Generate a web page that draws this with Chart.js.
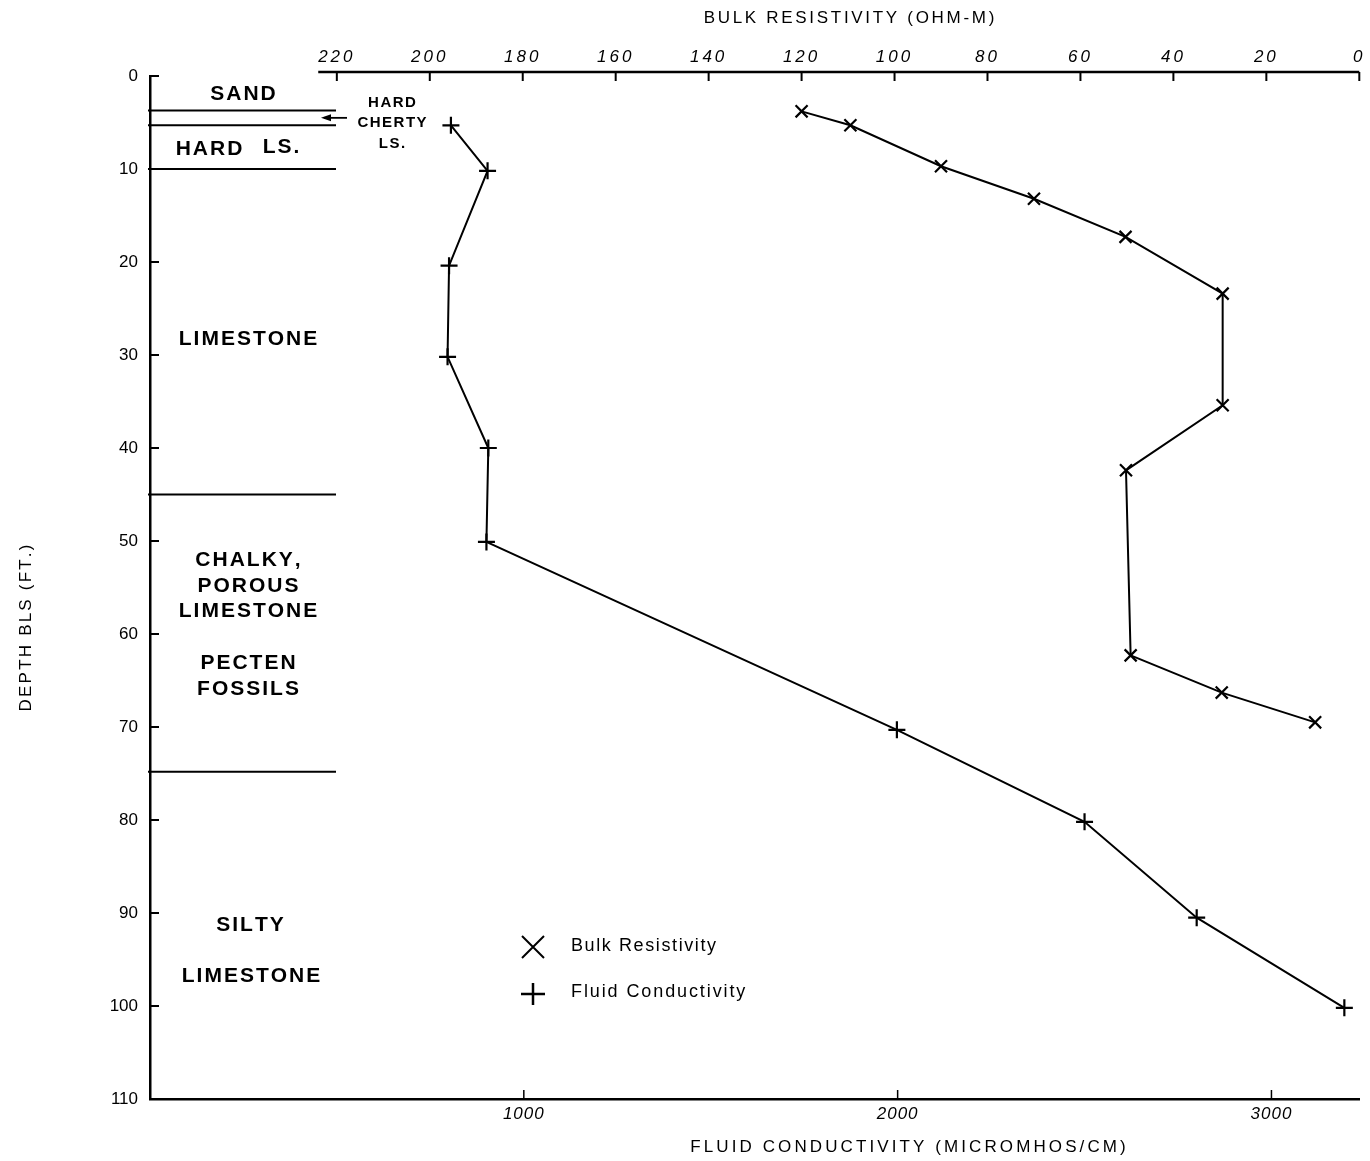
<!DOCTYPE html>
<html>
<head>
<meta charset="utf-8">
<title>Bulk Resistivity and Fluid Conductivity vs Depth</title>
<script src="https://cdn.jsdelivr.net/npm/chart.js@4/dist/chart.umd.min.js"></script>
<style>
  html, body { margin: 0; padding: 0; background: #fff; }
  canvas { display: block; }
</style>
</head>
<body>
<canvas id="c" width="1370" height="1161"></canvas>
<script>
// ---- measured data ----
const bulkDepth = [3.8, 5.3, 9.7, 13.2, 17.3, 23.4, 35.4, 42.4, 62.3, 66.3, 69.5];
const bulkResistivity = [120, 109.5, 90, 70, 50.3, 29.4, 29.4, 50.2, 49.2, 29.6, 9.5];

const fluidDepth = [5.3, 10.2, 20.4, 30.2, 40.0, 50.1, 70.3, 80.2, 90.5, 100.2];
const fluidConductivity = [805, 903, 800, 796, 905, 900, 1998, 2500, 2800, 3195];

// ---- tick labels ----
const depthTicks = [0, 10, 20, 30, 40, 50, 60, 70, 80, 90, 100, 110];
const resistivityTicks = [0, 20, 40, 60, 80, 100, 120, 140, 160, 180, 200, 220];
const conductivityTicks = [1000, 2000, 3000];

// ---- lithologic column ----
const layerBoundaries = [3.7, 5.3, 10, 45, 74.8];
const lithologyLabels = [
  { text: 'SAND', depth: 1.8, cx: 243 },
  { text: 'HARD', depth: 7.7, cx: 209 },
  { text: 'LS.', depth: 7.5, cx: 281 },
  { text: 'LIMESTONE', depth: 28.1, cx: 248 },
  { text: 'CHALKY,', depth: 51.9, cx: 248 },
  { text: 'POROUS', depth: 54.7, cx: 248 },
  { text: 'LIMESTONE', depth: 57.4, cx: 248 },
  { text: 'PECTEN', depth: 63.0, cx: 248 },
  { text: 'FOSSILS', depth: 65.7, cx: 248 },
  { text: 'SILTY', depth: 91.1, cx: 250 },
  { text: 'LIMESTONE', depth: 96.6, cx: 251 }
];
const chertLabels = [
  { text: 'HARD', depth: 2.7 },
  { text: 'CHERTY', depth: 4.85 },
  { text: 'LS.', depth: 7.1 }
];
const chertArrowDepth = 4.5;

const FONT = '"Liberation Sans", Arial, Helvetica, sans-serif';
const INK = '#000';

// Draw text one glyph at a time with extra tracking between letters.
function trackedText(ctx, text, x, y, spacing, align) {
  const chars = Array.from(text);
  const widths = chars.map(ch => ctx.measureText(ch).width);
  const total = widths.reduce((a, b) => a + b, 0) + spacing * (chars.length - 1);
  let start = x;
  if (align === 'center') start = x - total / 2;
  else if (align === 'right') start = x - total;
  ctx.textAlign = 'left';
  chars.forEach((ch, i) => {
    ctx.fillText(ch, start, y);
    start += widths[i] + spacing;
  });
}

const labelTracking = { x: '1px', xTop: '3px' };

const decorations = {
  id: 'decorations',
  beforeDraw(chart) {
    // wider tracking for the horizontal axes' tick labels
    Object.keys(labelTracking).forEach(id => {
      const s = chart.scales[id];
      if (s && !s._tracked) {
        const orig = s.drawLabels;
        s.drawLabels = function (area) {
          const ctx = this.ctx;
          ctx.save();
          ctx.letterSpacing = labelTracking[id];
          orig.call(this, area);
          ctx.restore();
        };
        s._tracked = true;
      }
    });
  },
  afterDraw(chart) {
    const ctx = chart.ctx;
    const area = chart.chartArea;
    const y = chart.scales.y;
    const xb = chart.scales.x;
    const xt = chart.scales.xTop;
    const tick = 9;

    ctx.save();
    ctx.strokeStyle = INK;
    ctx.fillStyle = INK;
    ctx.lineCap = 'butt';

    // top (resistivity) axis line, set just above the plot
    const topY = area.top - 4;
    ctx.lineWidth = 2.5;
    ctx.beginPath();
    ctx.moveTo(xt.getPixelForValue(224), topY);
    ctx.lineTo(xt.getPixelForValue(0), topY);
    ctx.stroke();
    ctx.lineWidth = 2;
    resistivityTicks.forEach(v => {
      const px = xt.getPixelForValue(v);
      ctx.beginPath();
      ctx.moveTo(px, topY);
      ctx.lineTo(px, topY + tick);
      ctx.stroke();
    });

    // inward ticks on depth axis
    depthTicks.forEach(v => {
      if (v === 110) return;
      const py = y.getPixelForValue(v);
      ctx.beginPath();
      ctx.moveTo(area.left, py);
      ctx.lineTo(area.left + tick, py);
      ctx.stroke();
    });

    // inward ticks on conductivity axis
    ctx.lineWidth = 1.5;
    conductivityTicks.forEach(v => {
      const px = xb.getPixelForValue(v);
      ctx.beginPath();
      ctx.moveTo(px, area.bottom);
      ctx.lineTo(px, area.bottom - tick);
      ctx.stroke();
    });

    // lithologic boundaries
    ctx.lineWidth = 2;
    layerBoundaries.forEach(d => {
      const py = y.getPixelForValue(d);
      ctx.beginPath();
      ctx.moveTo(area.left - 2, py);
      ctx.lineTo(336, py);
      ctx.stroke();
    });

    // lithology names
    ctx.textBaseline = 'alphabetic';
    ctx.font = 'bold 21px ' + FONT;
    lithologyLabels.forEach(l => {
      trackedText(ctx, l.text, l.cx, y.getPixelForValue(l.depth) + 7.5, 2, 'center');
    });
    ctx.font = 'bold 15px ' + FONT;
    chertLabels.forEach(l => {
      trackedText(ctx, l.text, 392, y.getPixelForValue(l.depth) + 5.5, 1.5, 'center');
    });

    // arrow pointing to the thin cherty layer
    const ay = y.getPixelForValue(chertArrowDepth);
    ctx.lineWidth = 1.8;
    ctx.beginPath();
    ctx.moveTo(347, ay);
    ctx.lineTo(324, ay);
    ctx.stroke();
    ctx.beginPath();
    ctx.moveTo(321, ay);
    ctx.lineTo(331, ay - 3.5);
    ctx.lineTo(331, ay + 3.5);
    ctx.closePath();
    ctx.fill();

    // axis titles
    ctx.font = '17px ' + FONT;
    ctx.textBaseline = 'middle';
    trackedText(ctx, 'BULK RESISTIVITY (OHM-M)', 849, 18, 2.7, 'center');
    trackedText(ctx, 'FLUID CONDUCTIVITY (MICROMHOS/CM)', 908, 1147, 3.1, 'center');
    ctx.save();
    ctx.translate(26, 628);
    ctx.rotate(-Math.PI / 2);
    trackedText(ctx, 'DEPTH BLS (FT.)', 0, 0, 2.2, 'center');
    ctx.restore();

    // legend
    ctx.lineWidth = 2;
    const lx = 533;
    const l1 = 947, l2 = 994, h = 11;
    ctx.beginPath();
    ctx.moveTo(lx - h, l1 - h); ctx.lineTo(lx + h, l1 + h);
    ctx.moveTo(lx + h, l1 - h); ctx.lineTo(lx - h, l1 + h);
    ctx.stroke();
    ctx.lineWidth = 2.5;
    ctx.beginPath();
    ctx.moveTo(lx - h - 1, l2); ctx.lineTo(lx + h + 1, l2);
    ctx.moveTo(lx, l2 - h); ctx.lineTo(lx, l2 + h);
    ctx.stroke();
    ctx.font = '18px ' + FONT;
    ctx.textBaseline = 'middle';
    trackedText(ctx, 'Bulk Resistivity', 571, 946, 1.6, 'left');
    trackedText(ctx, 'Fluid Conductivity', 571, 992, 1.9, 'left');

    ctx.restore();
  }
};

const bulkPoints = bulkDepth.map((d, i) => ({ x: bulkResistivity[i], y: d }));
const fluidPoints = fluidDepth.map((d, i) => ({ x: fluidConductivity[i], y: d }));

const tickFont = { family: FONT, size: 17, style: 'italic' };
const plainLabel = v => String(v);

new Chart(document.getElementById('c'), {
  type: 'scatter',
  data: {
    datasets: [
      {
        label: 'Bulk Resistivity',
        data: bulkPoints,
        xAxisID: 'xTop',
        yAxisID: 'y',
        showLine: true,
        borderColor: INK,
        backgroundColor: INK,
        borderWidth: 2,
        pointStyle: 'crossRot',
        pointRadius: 8.5,
        pointBorderWidth: 2.2,
        pointBorderColor: INK,
        clip: false
      },
      {
        label: 'Fluid Conductivity',
        data: fluidPoints,
        xAxisID: 'x',
        yAxisID: 'y',
        showLine: true,
        borderColor: INK,
        backgroundColor: INK,
        borderWidth: 2,
        pointStyle: 'cross',
        pointRadius: 8.5,
        pointBorderWidth: 2.2,
        pointBorderColor: INK,
        clip: false
      }
    ]
  },
  options: {
    responsive: false,
    devicePixelRatio: 1,
    animation: false,
    events: [],
    layout: { padding: { top: 0, left: 0, right: 10, bottom: 0 } },
    plugins: {
      legend: { display: false },
      tooltip: { enabled: false }
    },
    scales: {
      x: {
        type: 'linear',
        position: 'bottom',
        min: 0,
        max: 3235,
        afterBuildTicks: s => { s.ticks = conductivityTicks.map(v => ({ value: v })); },
        afterFit: s => { s.height = 62; },
        ticks: { color: INK, font: tickFont, padding: 5, autoSkip: false, maxRotation: 0, callback: plainLabel },
        grid: { display: false, drawTicks: false },
        border: { display: true, color: INK, width: 2.5 }
      },
      xTop: {
        type: 'linear',
        position: 'top',
        reverse: true,
        min: 0,
        max: 260.2,
        afterBuildTicks: s => { s.ticks = resistivityTicks.map(v => ({ value: v })); },
        afterFit: s => { s.height = 76; },
        ticks: { color: INK, font: tickFont, padding: 9, autoSkip: false, maxRotation: 0, callback: plainLabel },
        grid: { display: false, drawTicks: false },
        border: { display: false }
      },
      y: {
        type: 'linear',
        position: 'left',
        reverse: true,
        min: 0,
        max: 110,
        afterBuildTicks: s => { s.ticks = depthTicks.map(v => ({ value: v })); },
        afterFit: s => { s.width = 150; },
        ticks: { color: INK, font: { family: FONT, size: 17 }, padding: 12, autoSkip: false, callback: plainLabel },
        grid: { display: false, drawTicks: false },
        border: { display: true, color: INK, width: 2.5 }
      }
    }
  },
  plugins: [decorations]
});
</script>
</body>
</html>
